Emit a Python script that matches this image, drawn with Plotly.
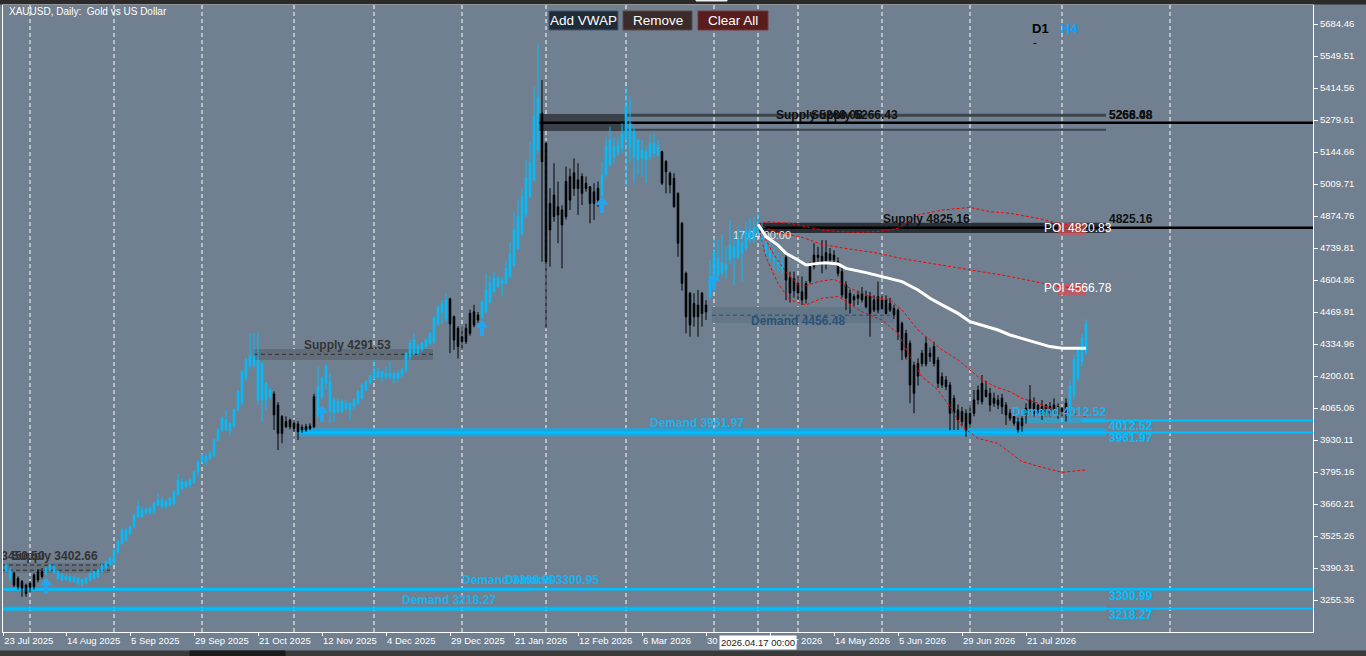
import plotly.graph_objects as go

# one bar per trading day, bar 0 = 23 Jul 2025, last bar = 11 Aug 2026
opens = [
    3395, 3379, 3382, 3368, 3347, 3333, 3318, 3309, 3312, 3340,
    3354, 3368, 3382, 3396, 3375, 3361, 3342, 3354, 3351, 3347,
    3326, 3328, 3340, 3347, 3354, 3375, 3389, 3403, 3410, 3459,
    3494, 3550, 3536, 3565, 3607, 3635, 3621, 3642, 3628, 3656,
    3677, 3649, 3656, 3660, 3700, 3754, 3733, 3740, 3750, 3796,
    3839, 3860, 3853, 3865, 3930, 3972, 4014, 3972, 3990, 4057,
    4085, 4190, 4290, 4245, 4267, 4253, 4099, 4115, 4124, 4078,
    3958, 4008, 3986, 4000, 3998, 3972, 3986, 3979, 3986, 4035,
    4113, 4170, 4176, 4045, 4092, 4050, 4085, 4057, 4071, 4085,
    4106, 4141, 4169, 4190, 4218, 4197, 4211, 4197, 4211, 4190,
    4204, 4225, 4282, 4296, 4324, 4310, 4324, 4338, 4345, 4420,
    4470, 4440, 4525, 4450, 4401, 4366, 4345, 4380, 4471, 4457,
    4450, 4471, 4513, 4556, 4577, 4591, 4591, 4619, 4668, 4738,
    4801, 4879, 4956, 5027, 5153, 5308, 5181, 4928, 4963, 4914,
    4900, 5020, 5041, 5057, 5027, 5041, 5013, 4998, 4977, 4991,
    4963, 5048, 5090, 5125, 5146, 5160, 5195, 5266, 5230, 5195,
    5118, 5146, 5125, 5139, 5132, 5146, 5104, 5055, 5034, 4970,
    4844, 4633, 4549, 4506, 4499, 4549, 4499, 4535, 4577, 4696,
    4633, 4668, 4689, 4745, 4703, 4760, 4740, 4775, 4778, 4805,
    4805, 4760, 4725, 4700, 4690, 4675, 4700, 4615, 4560, 4590,
    4555, 4525, 4600, 4662, 4710, 4705, 4680, 4715, 4690, 4682,
    4640, 4584, 4549, 4521, 4528, 4549, 4535, 4535, 4521, 4478,
    4521, 4521, 4506, 4485, 4478, 4422, 4380, 4338, 4246, 4200,
    4253, 4250, 4296, 4324, 4267, 4197, 4183, 4162, 4106, 4057,
    4050, 4043, 4043, 4043, 4099, 4092, 4141, 4127, 4106, 4099,
    4106, 4078, 4043, 4029, 4008, 3990, 4064, 4064, 4085, 4057,
    4071, 4050, 4071, 4057, 4071, 4050, 4043, 4030, 4120, 4190,
    4260, 4300,
]
highs = [
    3410, 3410, 3392, 3375, 3355, 3340, 3325, 3335, 3368, 3385,
    3390, 3395, 3410, 3405, 3382, 3368, 3362, 3360, 3358, 3352,
    3348, 3352, 3374, 3380, 3388, 3408, 3422, 3436, 3472, 3508,
    3556, 3560, 3572, 3620, 3675, 3650, 3650, 3650, 3670, 3705,
    3690, 3680, 3692, 3718, 3790, 3770, 3760, 3768, 3800, 3845,
    3875, 3870, 3885, 3935, 3980, 4030, 4057, 4005, 4062, 4140,
    4225, 4275, 4380, 4381, 4387, 4260, 4176, 4150, 4135, 4090,
    4035, 4030, 4020, 4015, 4010, 3995, 3998, 4000, 4125, 4239,
    4200, 4250, 4212, 4110, 4105, 4100, 4098, 4092, 4105, 4140,
    4170, 4182, 4205, 4267, 4235, 4225, 4240, 4258, 4220, 4225,
    4235, 4300, 4353, 4380, 4335, 4345, 4360, 4385, 4455, 4500,
    4520, 4548, 4530, 4455, 4410, 4408, 4420, 4480, 4500, 4470,
    4520, 4633, 4625, 4640, 4625, 4620, 4690, 4766, 4890, 4942,
    4991, 5111, 5188, 5420, 5603, 5448, 5190, 4992, 5097, 5020,
    4920, 5083, 5075, 5118, 5097, 5055, 5041, 5000, 5013, 5020,
    5104, 5209, 5252, 5209, 5209, 5266, 5420, 5378, 5252, 5200,
    5195, 5167, 5216, 5223, 5195, 5150, 5111, 5062, 5055, 4975,
    4850, 4640, 4555, 4549, 4563, 4555, 4520, 4689, 4780, 4774,
    4795, 4745, 4858, 4802, 4830, 4816, 4855, 4866, 4870, 4890,
    4850, 4790, 4770, 4745, 4720, 4700, 4720, 4640, 4640, 4620,
    4620, 4600, 4680, 4760, 4745, 4773, 4773, 4740, 4730, 4700,
    4660, 4600, 4565, 4545, 4560, 4575, 4560, 4555, 4540, 4598,
    4545, 4540, 4530, 4500, 4485, 4430, 4395, 4350, 4260, 4275,
    4310, 4366, 4320, 4345, 4280, 4215, 4200, 4175, 4120, 4080,
    4070, 4060, 4080, 4141, 4160, 4204, 4180, 4150, 4130, 4120,
    4125, 4090, 4060, 4045, 4025, 4030, 4085, 4162, 4110, 4080,
    4099, 4080, 4090, 4106, 4085, 4070, 4106, 4180, 4290, 4330,
    4380, 4440,
]
lows = [
    3380, 3372, 3335, 3310, 3300, 3269, 3269, 3290, 3300, 3330,
    3345, 3360, 3375, 3365, 3340, 3335, 3335, 3330, 3328, 3318,
    3312, 3322, 3335, 3340, 3348, 3370, 3384, 3398, 3405, 3452,
    3488, 3500, 3528, 3558, 3600, 3600, 3615, 3612, 3620, 3650,
    3640, 3640, 3650, 3650, 3691, 3720, 3725, 3728, 3745, 3775,
    3830, 3825, 3845, 3855, 3925, 3965, 3968, 3950, 3982, 4050,
    4075, 4180, 4230, 4235, 4078, 4007, 4057, 4100, 3972, 3888,
    3916, 3980, 3975, 3965, 3930, 3960, 3965, 3972, 3980, 4025,
    4100, 4140, 4000, 4005, 4040, 4040, 4055, 4014, 4060, 4080,
    4100, 4135, 4160, 4185, 4185, 4175, 4185, 4185, 4170, 4175,
    4195, 4215, 4268, 4290, 4285, 4300, 4315, 4330, 4335, 4410,
    4420, 4430, 4296, 4310, 4274, 4310, 4335, 4370, 4405, 4425,
    4440, 4465, 4505, 4550, 4570, 4535, 4585, 4610, 4660, 4730,
    4790, 4870, 4950, 5020, 5140, 4682, 4401, 4661, 4851, 4760,
    4654, 4860, 4900, 4960, 4880, 4921, 4977, 4844, 4858, 4914,
    4950, 5040, 5083, 5100, 5130, 5140, 4998, 5100, 5013, 5048,
    5041, 5013, 5110, 5120, 5125, 5006, 4970, 4970, 4910, 4703,
    4560, 4380, 4366, 4408, 4366, 4408, 4436, 4520, 4560, 4605,
    4620, 4612, 4670, 4584, 4690, 4600, 4730, 4760, 4760, 4790,
    4740, 4700, 4680, 4650, 4640, 4630, 4520, 4510, 4530, 4520,
    4500, 4506, 4590, 4650, 4680, 4633, 4650, 4680, 4670, 4620,
    4530, 4478, 4464, 4495, 4500, 4510, 4485, 4366, 4470, 4465,
    4480, 4460, 4470, 4440, 4352, 4267, 4270, 4085, 4043, 4160,
    4240, 4240, 4260, 4240, 4150, 4150, 4140, 3972, 3972, 3972,
    3990, 3944, 3980, 4030, 4080, 4080, 4110, 4050, 4070, 4060,
    4040, 3994, 4010, 3990, 3960, 3965, 4000, 4050, 4030, 4040,
    4015, 4030, 4030, 4040, 4020, 4030, 4008, 4010, 4100, 4180,
    4240, 4290,
]
closes = [
    3400, 3403, 3347, 3318, 3312, 3305, 3283, 3326, 3361, 3375,
    3375, 3389, 3403, 3370, 3347, 3340, 3356, 3337, 3333, 3326,
    3342, 3347, 3368, 3375, 3382, 3403, 3417, 3431, 3466, 3501,
    3550, 3508, 3565, 3614, 3649, 3607, 3638, 3623, 3663, 3677,
    3649, 3670, 3684, 3712, 3761, 3726, 3754, 3761, 3796, 3839,
    3867, 3839, 3874, 3930, 3972, 4021, 3972, 4000, 4057, 4134,
    4218, 4267, 4245, 4281, 4099, 4099, 4170, 4141, 4036, 3958,
    4029, 3986, 4014, 3979, 3965, 3984, 3972, 3989, 4113, 4155,
    4190, 4240, 4050, 4100, 4050, 4092, 4064, 4085, 4099, 4134,
    4162, 4176, 4197, 4225, 4197, 4218, 4197, 4211, 4190, 4211,
    4225, 4296, 4338, 4352, 4296, 4338, 4352, 4380, 4445, 4490,
    4505, 4520, 4420, 4352, 4324, 4345, 4401, 4464, 4415, 4436,
    4513, 4563, 4591, 4612, 4612, 4602, 4654, 4717, 4816, 4872,
    4956, 5034, 5097, 5294, 5371, 5104, 4682, 4816, 4872, 4879,
    4837, 4872, 4942, 4991, 4991, 4970, 4991, 4928, 4928, 4942,
    5048, 5167, 5195, 5167, 5174, 5223, 5343, 5167, 5125, 5111,
    5153, 5111, 5181, 5181, 5167, 5013, 5062, 5006, 4914, 4760,
    4591, 4450, 4415, 4450, 4450, 4464, 4471, 4619, 4724, 4626,
    4675, 4647, 4752, 4700, 4774, 4720, 4810, 4815, 4827, 4840,
    4760, 4720, 4700, 4690, 4670, 4650, 4605, 4550, 4610, 4550,
    4520, 4590, 4660, 4710, 4700, 4680, 4720, 4690, 4710, 4633,
    4542, 4528, 4506, 4535, 4542, 4521, 4492, 4464, 4478, 4535,
    4485, 4464, 4478, 4457, 4387, 4310, 4282, 4162, 4127, 4253,
    4296, 4338, 4282, 4253, 4169, 4162, 4155, 4043, 4043, 4015,
    4008, 3972, 4000, 4099, 4141, 4169, 4113, 4078, 4085, 4078,
    4071, 4036, 4022, 4001, 3972, 4020, 4036, 4099, 4043, 4078,
    4043, 4078, 4043, 4078, 4036, 4064, 4085, 4160, 4270, 4320,
    4360, 4420,
]
# trend colouring of the candles: first bar of each run
trend_starts = [0, 3, 11, 68, 79, 112, 120, 135, 150, 165, 177, 196, 267]
trend_up = [True, False, True, False, True, False, True, False, True, False, True, False, True]

date_ticks = [0.3, 16, 32, 48, 64, 80, 96, 112, 128, 144, 160, 176, 192, 208, 224, 240, 256]
date_labels = ["23 Jul 2025", "14 Aug 2025", "5 Sep 2025", "29 Sep 2025", "21 Oct 2025",
               "12 Nov 2025", "4 Dec 2025", "29 Dec 2025", "21 Jan 2026", "12 Feb 2026",
               "6 Mar 2026", "30 Mar 2026", "22 Apr 2026", "14 May 2026", "5 Jun 2026",
               "29 Jun 2026", "21 Jul 2026"]
price_ticks = [5684.46, 5549.51, 5414.56, 5279.61, 5144.66, 5009.71, 4874.76, 4739.81,
               4604.86, 4469.91, 4334.96, 4200.01, 4065.06, 3930.11, 3795.16, 3660.21,
               3525.26, 3390.31, 3255.36]
# month separators (+ the VWAP anchor bar 2026.04.17)
separators = [7, 28, 50, 73, 93, 115, 136, 156, 178, 189, 199, 220, 242, 265, 292]

# anchored VWAP and its bands (bar, price)
vwap_bars = [189, 191, 194, 196, 199, 201, 204, 206, 209, 211, 216, 220, 225, 229, 232,
             235, 239, 242, 245, 249, 252, 255, 259, 262, 265, 271]
vwap_vals = [4840, 4788, 4752, 4717, 4689, 4668, 4675, 4678, 4672, 4654, 4636, 4619, 4598,
             4563, 4528, 4500, 4464, 4429, 4415, 4394, 4373, 4359, 4341, 4324, 4317, 4317]
band1_bars = [189, 191, 197, 201, 205, 209, 214, 219, 224, 229, 235, 242, 247, 252, 259, 264, 271]
band1_vals = [4837, 4851, 4844, 4830, 4816, 4809, 4806, 4809, 4823, 4879, 4900, 4911, 4893,
              4886, 4865, 4844, 4821]
band2_bars = [189, 194, 200, 205, 212, 219, 225, 232, 239, 245, 252, 259, 264, 271]
band2_vals = [4837, 4805, 4785, 4755, 4735, 4718, 4695, 4675, 4655, 4640, 4620, 4595, 4578, 4567]
band3_bars = [189, 191, 193, 196, 199, 201, 204, 208, 212, 217, 222, 225, 229, 232, 235, 239,
              242, 245, 249, 252, 255, 259, 262, 265, 271]
band3_vals = [4837, 4770, 4710, 4640, 4585, 4580, 4598, 4608, 4570, 4535, 4521, 4478, 4394,
              4352, 4310, 4268, 4225, 4183, 4150, 4134, 4106, 4085, 4064, 4050, 4030]
band4_bars = [189, 191, 194, 197, 201, 205, 209, 211, 215, 220, 224, 227, 230, 234, 237, 240,
              244, 249, 255, 260, 265, 271]
band4_vals = [4837, 4700, 4590, 4521, 4500, 4528, 4535, 4514, 4471, 4436, 4380, 4282, 4197,
              4141, 4071, 3986, 3937, 3916, 3839, 3815, 3794, 3804]

# signal arrows (bar, price of the tip)
arrow_bars = [11, 80, 120, 150, 178]
arrow_tips = [3345, 4070, 4432, 4951, 4627]

BG = "#708090"
BLUE = "#00BFFF"
X_MAX = 327.75
Y_RANGE = [3120.4, 5764.6]
PER_PX = (Y_RANGE[1] - Y_RANGE[0]) / 627  # price per screen pixel


def px_x(px):
    return (px - 3) / 1310


def px_y(py):
    return (632 - py) / 627


fig = go.Figure()

# candles, coloured by trend state
up_state = []
run = 0
for i in range(len(opens)):
    if run + 1 < len(trend_starts) and i >= trend_starts[run + 1]:
        run += 1
    up_state.append(trend_up[run])

for state, col in [(True, BLUE), (False, "#000000")]:
    idx = [i for i in range(len(opens)) if up_state[i] == state]
    fig.add_trace(go.Candlestick(
        x=idx,
        open=[opens[i] for i in idx], high=[highs[i] for i in idx],
        low=[lows[i] for i in idx], close=[closes[i] for i in idx],
        increasing=dict(line=dict(color=col, width=1), fillcolor=col),
        decreasing=dict(line=dict(color=col, width=1), fillcolor=col),
        whiskerwidth=0, hoverinfo="skip", showlegend=False,
    ))

# VWAP bands
for bx, bv in [(band1_bars, band1_vals), (band2_bars, band2_vals),
               (band3_bars, band3_vals), (band4_bars, band4_vals)]:
    fig.add_trace(go.Scatter(x=bx, y=bv, mode="lines", hoverinfo="skip", showlegend=False,
                             line=dict(color="#FF0000", width=1, dash="3px,2px")))
fig.add_trace(go.Scatter(x=vwap_bars, y=vwap_vals, mode="lines", hoverinfo="skip",
                         showlegend=False, line=dict(color="#FFFFFF", width=3)))

# signal arrows: a head and a short thick stem under each tip
ARROW_COL = "#22a6f0"
for ab, at in zip(arrow_bars, arrow_tips):
    fig.add_trace(go.Scatter(x=[ab, ab], y=[at - 7 * PER_PX, at - 15 * PER_PX], mode="lines",
                             hoverinfo="skip", showlegend=False,
                             line=dict(color=ARROW_COL, width=4)))
fig.add_trace(go.Scatter(x=arrow_bars, y=[t - 4 * PER_PX for t in arrow_tips], mode="markers",
                         hoverinfo="skip", showlegend=False,
                         marker=dict(symbol="triangle-up", size=11, color=ARROW_COL,
                                     line=dict(width=0))))

shapes = []
for s in separators:
    shapes.append(dict(type="line", xref="x", yref="paper", x0=s, x1=s, y0=0, y1=1,
                       layer="below", line=dict(color="#FFFFFF", width=1, dash="4px,3px")))


def rect(x0, x1, y0, y1, fill):
    shapes.append(dict(type="rect", xref="x", yref="y", x0=x0, x1=x1, y0=y0, y1=y1,
                       layer="below", fillcolor=fill, line=dict(width=0)))


def hline(x0, x1, y, color, width, dash="solid"):
    shapes.append(dict(type="line", xref="x", yref="y", x0=x0, x1=x1, y0=y, y1=y,
                       layer="below", line=dict(color=color, width=width, dash=dash)))


# supply zones
rect(134, 156.25, 5233, 5305, "#3a4149")
hline(156.25, 276, 5300, "#3e454d", 3)
hline(156.25, 276, 5238, "#3e454d", 2)
hline(134, X_MAX, 5268.08, "#000000", 2.5)
rect(189, 276, 4803, 4846, "rgba(36,41,48,0.92)")
hline(189, X_MAX, 4825.16, "#000000", 2.5)
rect(62.75, 107.75, 4267, 4314, "#626d7a")
hline(63, 108, 4291.53, "#333333", 1, "4px,3px")
rect(0, 27, 3369, 3411, "#66727f")
hline(0, 27, 3402.66, "#2e2e2e", 1, "4px,3px")
hline(0, 27, 3381, "#2e2e2e", 1, "4px,3px")
# demand zones
rect(177.5, 223, 4423, 4491, "#637789")
hline(177.5, 222, 4456.48, "#2c4f6e", 1, "4px,3px")
rect(73.75, 276, 3946, 3980, "#1aa6e0")
hline(73.75, X_MAX, 3961.97, BLUE, 2)
rect(255.75, 276, 4002, 4023, "rgba(0,191,255,0.45)")
hline(253.25, 255.75, 4012.52, BLUE, 2)
hline(270, X_MAX, 4012.52, BLUE, 2)
rect(0, 132, 3294, 3307, "rgba(0,191,255,0.65)")
hline(0, X_MAX, 3300.99, BLUE, 2.5)
rect(0, 276, 3207, 3228, "rgba(0,191,255,0.6)")
hline(0, X_MAX, 3218.27, BLUE, 2)

# POI boxes
rect(264, 271, 4795, 4846, "rgba(210,80,90,0.75)")
rect(264, 271, 4541, 4592, "rgba(210,80,90,0.75)")

# anchor time label sits behind the candles
shapes.append(dict(type="rect", xref="x", yref="y", x0=182, x1=200, y0=4789, y1=4809,
                   layer="below", line=dict(width=0),
                   label=dict(text="17.04 00:00", textposition="middle left", padding=0,
                              font=dict(family="Liberation Sans", size=11, color="#e6e6e6"))))

# window chrome and buttons
chrome = [
    (0, 1366, -1, 4, "#2a2a2a"), (696, 727, -1, 1, "#f0f0f0"),
    (0, 1366, 651, 657, "#3a3a3a"), (190, 285, 651, 657, "#1c1c1c"),
    (549, 618, 11, 30, "#1f2c38"), (623, 692, 11, 30, "#3b2b2b"), (698, 768, 11, 30, "#5a1d1d"),
]
borders = ["#2a2a2a", "#f0f0f0", "#3a3a3a", "#1c1c1c", "#46576a", "#5c4848", "#7a3636"]
for (x0, x1, y0, y1, fill), bc in zip(chrome, borders):
    shapes.append(dict(type="rect", xref="paper", yref="paper", x0=px_x(x0), x1=px_x(x1),
                       y0=px_y(y1), y1=px_y(y0), fillcolor=fill, layer="above",
                       line=dict(color=bc, width=1)))

fig.update_layout(shapes=shapes)

# object labels
labels = [
    (-11, 3437, "Supply 3450.50", "#333333"),
    (2.25, 3437, "Supply 3402.66", "#333333"),
    (75.5, 4326, "Supply 4291.53", "#333333"),
    (162, 3998, "Demand 3961.97", "#1ab2ee"),
    (100, 3251, "Demand 3218.27", "#1ab2ee"),
    (115, 3335, "Demand 3300.99", "#1ab2ee"),
    (125.75, 3335, "Demand 3300.95", "#1ab2ee"),
    (187.25, 4428, "Demand 4456.48", "#2c5275"),
    (252.5, 4044, "Demand 4012.52", "#1ab2ee"),
    (220.25, 4858, "Supply 4825.16", "#111111"),
    (193.5, 5296, "Supply 5268.08", "#111111"),
    (202.25, 5296, "Supply 5266.43", "#111111"),
    (276.75, 5296, "5268.08", "#111111"),
    (276.75, 5296, "5266.48", "#111111"),
    (276.75, 4858, "4825.16", "#111111"),
    (276.75, 3985, "4012.52", BLUE),
    (276.75, 3934, "3961.97", BLUE),
    (276.75, 3268, "3300.99", BLUE),
    (276.75, 3188, "3218.27", BLUE),
]
for lx, ly, txt, col in labels:
    fig.add_trace(go.Scatter(x=[lx], y=[ly], mode="text", text=["<b>" + txt + "</b>"],
                             textposition="middle right", hoverinfo="skip", showlegend=False,
                             textfont=dict(family="Liberation Sans", size=12, color=col)))
poi_vals = [4820.83, 4566.78]
for pv in poi_vals:
    fig.add_trace(go.Scatter(x=[260.5], y=[pv], mode="text", text=[f"POI {pv:.2f}"],
                             textposition="middle right", hoverinfo="skip", showlegend=False,
                             textfont=dict(family="Liberation Sans", size=12, color="#FFFFFF")))

annotations = []
ui_text = [
    (7, 11, "XAUUSD, Daily:  Gold vs US Dollar", "#FFFFFF", 10, "left"),
    (583.5, 20.5, "Add VWAP", "#FFFFFF", 13.5, "center"),
    (657.5, 20.5, "Remove", "#FFFFFF", 13.5, "center"),
    (733, 20.5, "Clear All", "#FFFFFF", 13.5, "center"),
    (1030, 28, "<b>D1</b>", "#000000", 13, "left"),
    (1059, 28, "<b>H4</b>", "#0aa4ff", 13, "left"),
    (1031, 42, "-", "#000000", 11, "left"),
]
for tx, ty, txt, col, size, anchor in ui_text:
    annotations.append(dict(x=px_x(tx), y=px_y(ty), xref="paper", yref="paper", text=txt,
                            showarrow=False, xanchor=anchor, yanchor="middle",
                            font=dict(family="Liberation Sans", size=size, color=col)))
annotations.append(dict(x=189, y=px_y(642), xref="x", yref="paper", text="2026.04.17 00:00",
                        showarrow=False, xanchor="center", yanchor="middle", bgcolor="#FFFFFF",
                        borderpad=1, font=dict(family="Liberation Sans", size=9.5, color="#1a1a1a")))

fig.update_layout(
    annotations=annotations,
    width=1366, height=656,
    margin=dict(l=3, r=53, t=5, b=24),
    paper_bgcolor=BG, plot_bgcolor=BG,
    showlegend=False,
    boxgap=0.45,
    font=dict(family="Liberation Sans", color="#FFFFFF"),
)
fig.update_xaxes(
    range=[0.25, X_MAX], showgrid=False, zeroline=False,
    showline=True, mirror=True, linecolor="#FFFFFF", linewidth=1,
    ticks="outside", ticklen=3, tickcolor="#FFFFFF",
    tickvals=date_ticks, ticktext=date_labels, ticklabelposition="outside right",
    tickfont=dict(family="Liberation Sans", size=9.5, color="#FFFFFF"),
    rangeslider=dict(visible=False), fixedrange=True,
)
fig.update_yaxes(
    side="right", range=Y_RANGE, showgrid=False, zeroline=False,
    showline=True, mirror=True, linecolor="#FFFFFF", linewidth=1,
    ticks="outside", ticklen=4, tickcolor="#FFFFFF",
    tickvals=price_ticks, ticktext=[f"{v:.2f}" for v in price_ticks],
    tickfont=dict(family="Liberation Sans", size=9.5, color="#FFFFFF"),
    fixedrange=True,
)

fig.write_html("out.html", config={"displayModeBar": False},
               post_script="document.body.style.margin='0';document.body.style.overflow='hidden';")
